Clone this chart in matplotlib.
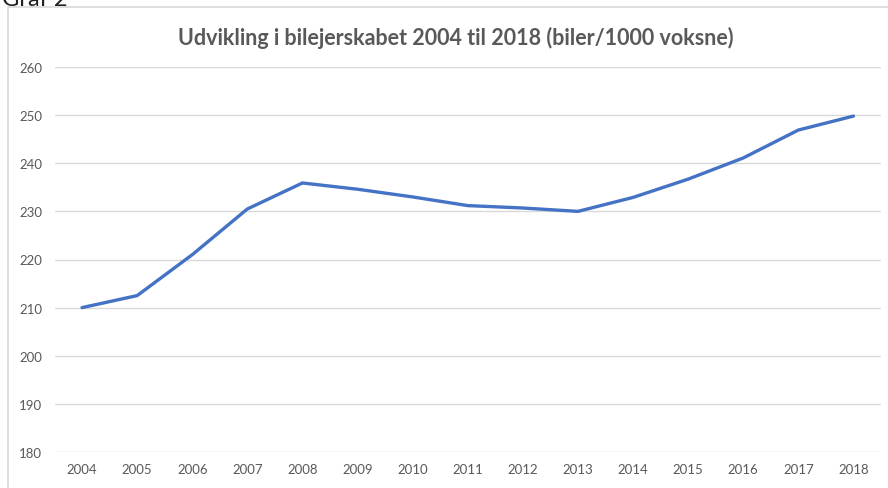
import matplotlib.pyplot as plt
from matplotlib.patches import Rectangle

years = ['2004', '2005', '2006', '2007', '2008', '2009', '2010', '2011',
         '2012', '2013', '2014', '2015', '2016', '2017', '2018']
cars = [210.0, 212.5, 221.0, 230.5, 235.9, 234.6, 233.0, 231.2,
        230.7, 230.0, 232.9, 236.7, 241.1, 246.9, 249.8]
yticks = [180, 190, 200, 210, 220, 230, 240, 250, 260]

plt.rcParams['font.family'] = ['Lato', 'DejaVu Sans']

W, H = 888, 489
fig = plt.figure(figsize=(W / 100, H / 100), dpi=100)

# chart frame (Excel chart area border), partly cut off right/bottom
fig.patches.append(Rectangle((8 / W, -0.02), 1.0, 1 - 8 / H + 0.02,
                             transform=fig.transFigure, fill=False,
                             edgecolor='#d9d9d9', linewidth=1.2))

# caption above the chart, clipped by the image edge as in the screenshot
fig.text(2 / W, 1 - 6 / H, 'Graf 2', fontsize=17, color='#222222', va='baseline')

ax = fig.add_axes([54.5 / W, 1 - 453 / H, (881 - 54.5) / W, (453 - 68) / H])
x = list(range(len(years)))
ax.plot(x, cars, color='#4472C4', linewidth=2.4, solid_capstyle='round')

ax.set_xlim(-0.5, len(years) - 0.5)
ax.set_ylim(180, 260)
ax.set_yticks(yticks)
ax.set_xticks(x)
ax.set_xticklabels(years)
ax.grid(axis='y', color='#d9d9d9', linewidth=1)
ax.set_axisbelow(True)
for s in ax.spines.values():
    s.set_visible(False)
ax.tick_params(length=0, labelsize=9.5, colors='#595959', pad=9)
ax.tick_params(axis='x', pad=8)

fig.text(456 / W, 1 - 38 / H, 'Udvikling i bilejerskabet 2004 til 2018 (biler/1000 voksne)',
         ha='center', va='center', fontsize=15.5, fontweight='bold', color='#595959')

fig.savefig('out.png', dpi=100)
